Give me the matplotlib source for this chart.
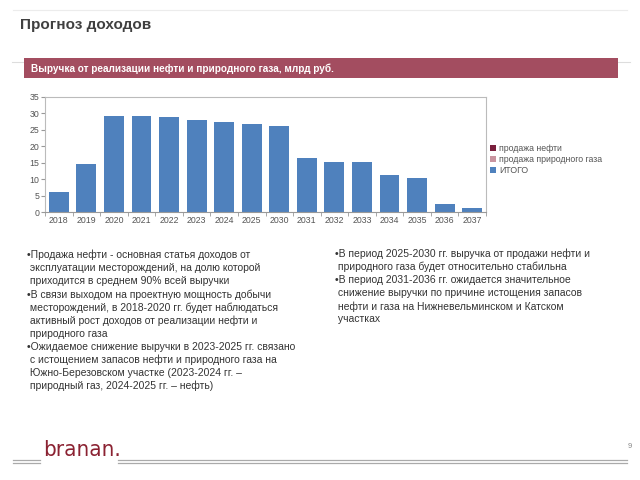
import matplotlib
matplotlib.use("Agg")
import matplotlib.pyplot as plt
from matplotlib import font_manager
from matplotlib.patches import Patch, Rectangle
from matplotlib.lines import Line2D

plt.rcParams['font.family'] = ['Liberation Sans', 'DejaVu Sans']

years = ["2018", "2019", "2020", "2021", "2022", "2023", "2024", "2025",
         "2030", "2031", "2032", "2033", "2034", "2035", "2036", "2037"]
total = [6.0, 14.7, 29.2, 29.2, 29.0, 28.0, 27.3, 26.7,
         26.3, 16.5, 15.2, 15.1, 11.2, 10.2, 2.4, 1.1]
legend_labels = ["продажа нефти", "продажа природного газа", "ИТОГО"]
legend_colors = ["#7a1f3d", "#c9949f", "#4f81bd"]

left_notes = [
    "•Продажа нефти - основная статья доходов от",
    " эксплуатации месторождений, на долю которой",
    " приходится в среднем 90% всей выручки",
    "•В связи выходом на проектную мощность добычи",
    " месторождений, в 2018-2020 гг. будет наблюдаться",
    " активный рост доходов от реализации нефти и",
    " природного газа",
    "•Ожидаемое снижение выручки в 2023-2025 гг. связано",
    " с истощением запасов нефти и природного газа на",
    " Южно-Березовском участке (2023-2024 гг. –",
    " природный газ, 2024-2025 гг. – нефть)",
]
right_notes = [
    "•В период 2025-2030 гг. выручка от продажи нефти и",
    " природного газа будет относительно стабильна",
    "•В период 2031-2036 гг. ожидается значительное",
    " снижение выручки по причине истощения запасов",
    " нефти и газа на Нижневельминском и Катском",
    " участках",
]

# a narrow face for the logo, if one is installed
narrow = None
for f in font_manager.fontManager.ttflist:
    if any(k in f.fname for k in ("Condensed", "Narrow")) and "Bold" not in f.fname \
            and "Oblique" not in f.fname and "Italic" not in f.fname:
        narrow = f.fname
        break

fig = plt.figure(figsize=(6.4, 4.8), dpi=100)

# header
fig.add_artist(Line2D([13/640, 627/640], [1-10/480]*2, color="#ececec", lw=0.8))
fig.text(20/640, 1-25/480, "Прогноз доходов", fontsize=11, fontweight="bold",
         color="#404040", va="center")
fig.add_artist(Line2D([12/640, 630/640], [1-62/480]*2, color="#dddddd", lw=0.8))
fig.add_artist(Rectangle((24/640, 1-78/480), 594/640, 20/480, transform=fig.transFigure,
                         facecolor="#a34d60", edgecolor="none", zorder=3))
fig.text(31/640, 1-68.5/480, "Выручка от реализации нефти и природного газа, млрд руб.",
         fontsize=7.2, fontweight="bold", color="white", va="center", zorder=4)

# chart
ax = fig.add_axes([45/640, 1-212/480, 441/640, 115/480])
x = range(len(years))
ax.bar(x, total, width=0.72, color=legend_colors[2])
ax.set_xlim(-0.5, len(years) - 0.5)
ax.set_ylim(0, 35)
ax.set_yticks(range(0, 36, 5))
ax.set_xticks(list(x))
ax.set_xticklabels(years)
ax.set_xticks([i + 0.5 for i in range(-1, len(years))], minor=True)
ax.tick_params(axis="x", which="major", length=0, labelsize=6.3, colors="#555555", pad=3)
ax.tick_params(axis="x", which="minor", length=3, color="#999999")
ax.tick_params(axis="y", length=3, labelsize=6.3, colors="#555555", pad=1, color="#999999")
for s in ax.spines.values():
    s.set_color("#bbbbbb")
    s.set_linewidth(0.8)
ax.spines["bottom"].set_color("#999999")

handles = [Patch(facecolor=c, edgecolor="none") for c in legend_colors]
fig.legend(handles, legend_labels, loc="upper left", bbox_to_anchor=(490/640, 1-144/480),
           frameon=False, fontsize=6.3, handlelength=0.7, handleheight=0.7,
           handletextpad=0.3, labelspacing=0.25, borderaxespad=0, borderpad=0,
           labelcolor="#555555")

# notes
for i, line in enumerate(left_notes):
    fig.text(27/640, 1-(255 + i*13.1)/480, line, fontsize=7.5, color="#333333", va="center")
for i, line in enumerate(right_notes):
    fig.text(335/640, 1-(254 + i*13.1)/480, line, fontsize=7.5, color="#333333", va="center")

# footer
for yy in (460, 463):
    fig.add_artist(Line2D([13/640, 40/640], [1-yy/480]*2, color="#aaaaaa", lw=0.9))
    fig.add_artist(Line2D([118/640, 627/640], [1-yy/480]*2, color="#aaaaaa", lw=0.9))
if narrow:
    fig.text(43/640, 1-456/480, "branan.", color="#8b2232", va="baseline",
             fontproperties=font_manager.FontProperties(fname=narrow, size=16))
else:
    fig.text(43/640, 1-456/480, "branan.", fontsize=14, color="#8b2232", va="baseline")
fig.text(630/640, 1-447/480, "9", fontsize=5.5, color="#888888", va="center", ha="center")

fig.savefig("out.png", dpi=100)
